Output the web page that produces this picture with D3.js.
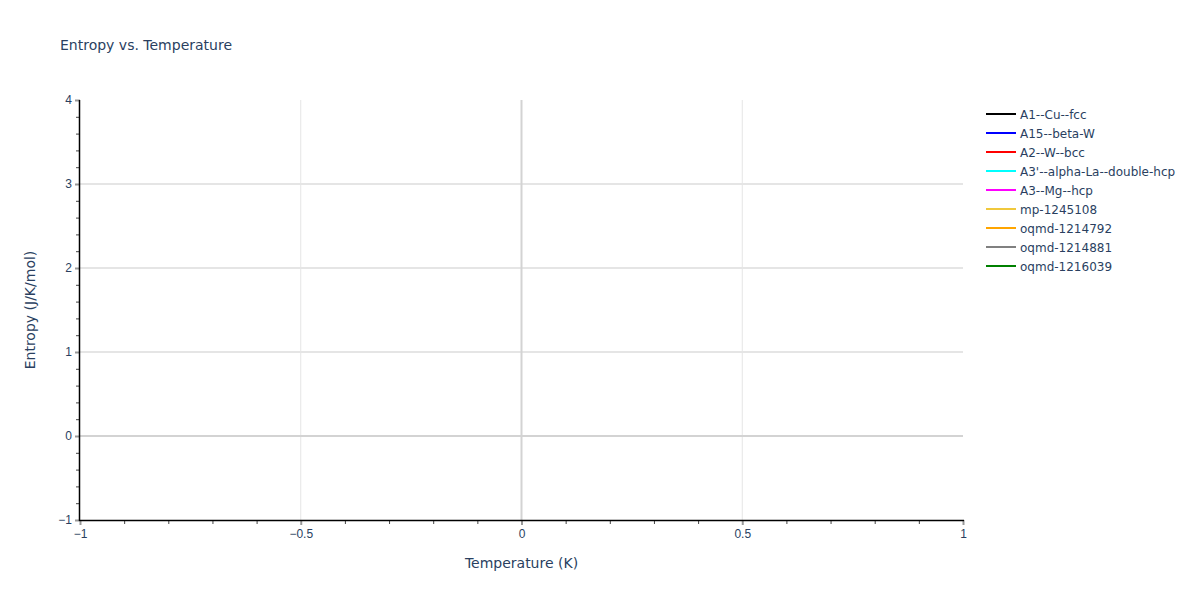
<!DOCTYPE html>
<html>
<head>
<meta charset="utf-8">
<script src="https://cdn.jsdelivr.net/npm/d3@7"></script>
<style>
  body { margin: 0; background: #fff; }
  svg { display: block; font-family: "DejaVu Sans", verdana, arial, sans-serif; }
</style>
</head>
<body>
<svg id="chart" width="1200" height="600"></svg>
<script>
// ---- data ----
const seriesNames = ["A1--Cu--fcc", "A15--beta-W", "A2--W--bcc", "A3'--alpha-La--double-hcp", "A3--Mg--hcp", "mp-1245108", "oqmd-1214792", "oqmd-1214881", "oqmd-1216039"];
const seriesColors = ["black", "blue", "red", "cyan", "magenta", "#f0c83c", "orange", "grey", "green"];
// every series is empty in the reference (no data points drawn)
const seriesValues = [[], [], [], [], [], [], [], [], []];
const xDomain = [-1, 1];
const yDomain = [-1, 4];
const xTicks = [-1, -0.5, 0, 0.5, 1];
const yTicks = [-1, 0, 1, 2, 3, 4];
const xMinorTicks = [-0.9, -0.8, -0.7, -0.6, -0.4, -0.3, -0.2, -0.1, 0.1, 0.2, 0.3, 0.4, 0.6, 0.7, 0.8, 0.9];
const yMinorTicks = [-0.8, -0.6, -0.4, -0.2, 0.2, 0.4, 0.6, 0.8, 1.2, 1.4, 1.6, 1.8, 2.2, 2.4, 2.6, 2.8, 3.2, 3.4, 3.6, 3.8];
const titleText = "Entropy vs. Temperature";
const xTitle = "Temperature (K)";
const yTitle = "Entropy (J/K/mol)";

// ---- layout ----
const L = 80, R = 963, T = 100, B = 520;
const textColor = "#2a3f5f";
const svg = d3.select("#chart");

const x = d3.scaleLinear().domain(xDomain).range([L, R]);
const y = d3.scaleLinear().domain(yDomain).range([B, T]);

const fmt = v => d3.format("")(v).replace("-", "\u2212");

// grid
const g = svg.append("g");
g.selectAll(".gx").data(xTicks.filter(v => v !== 0 && v !== xDomain[0] && v !== xDomain[1]))
  .join("line").attr("x1", d => x(d)).attr("x2", d => x(d)).attr("y1", T).attr("y2", B)
  .attr("stroke", "#e5e5e5").attr("stroke-width", 1);
g.selectAll(".gy").data(yTicks.filter(v => v !== 0 && v !== yDomain[0] && v !== yDomain[1]))
  .join("line").attr("x1", L).attr("x2", R).attr("y1", d => y(d)).attr("y2", d => y(d))
  .attr("stroke", "#e5e5e5").attr("stroke-width", 2);
// zero lines
g.append("line").attr("x1", x(0)).attr("x2", x(0)).attr("y1", T).attr("y2", B)
  .attr("stroke", "#d3d3d3").attr("stroke-width", 2);
g.append("line").attr("x1", L).attr("x2", R).attr("y1", y(0)).attr("y2", y(0))
  .attr("stroke", "#d3d3d3").attr("stroke-width", 2);

// series lines (empty)
const line = d3.line().x(d => x(d[0])).y(d => y(d[1]));
svg.append("g").selectAll("path").data(seriesValues).join("path")
  .attr("d", d => d.length ? line(d) : null)
  .attr("fill", "none")
  .attr("stroke", (d, i) => seriesColors[i]).attr("stroke-width", 2);

// x axis
const xAxis = d3.axisBottom(x).tickValues(xTicks).tickSize(5).tickPadding(4).tickFormat(fmt);
const xg = svg.append("g").attr("transform", `translate(0,${B})`).call(xAxis);
xg.select(".domain").remove();
xg.selectAll(".tick line").attr("stroke", "#999").attr("stroke-width", 2);
xg.selectAll(".tick text").attr("fill", textColor).attr("font-size", 12).attr("font-family", null);
const xMinor = d3.axisBottom(x).tickValues(xMinorTicks).tickSize(4).tickFormat("");
const xmg = svg.append("g").attr("transform", `translate(0,${B})`).call(xMinor);
xmg.select(".domain").remove();
xmg.selectAll(".tick line").attr("stroke", "#444").attr("stroke-width", 1);
svg.append("line").attr("x1", L - 1).attr("x2", R + 1).attr("y1", B + 0.5).attr("y2", B + 0.5)
  .attr("stroke", "black").attr("stroke-width", 1.5);

// y axis
const yAxis = d3.axisLeft(y).tickValues(yTicks).tickSize(5).tickPadding(3).tickFormat(fmt);
const yg = svg.append("g").attr("transform", `translate(${L},0)`).call(yAxis);
yg.select(".domain").remove();
yg.selectAll(".tick line").attr("stroke", "#999").attr("stroke-width", 2);
yg.selectAll(".tick text").attr("fill", textColor).attr("font-size", 12).attr("font-family", null);
const yMinor = d3.axisLeft(y).tickValues(yMinorTicks).tickSize(4).tickFormat("");
const ymg = svg.append("g").attr("transform", `translate(${L},0)`).call(yMinor);
ymg.select(".domain").remove();
ymg.selectAll(".tick line").attr("stroke", "#444").attr("stroke-width", 1);
svg.append("line").attr("x1", L - 0.5).attr("x2", L - 0.5).attr("y1", T).attr("y2", B + 1)
  .attr("stroke", "black").attr("stroke-width", 1.5);

// titles
svg.append("text").attr("x", 60).attr("y", 50).attr("fill", textColor)
  .attr("font-size", 14).text(titleText);
svg.append("text").attr("x", (L + R) / 2).attr("y", 568).attr("text-anchor", "middle")
  .attr("fill", textColor).attr("font-size", 14).text(xTitle);
svg.append("text").attr("transform", `translate(35,${(T + B) / 2}) rotate(-90)`)
  .attr("text-anchor", "middle").attr("fill", textColor).attr("font-size", 14).text(yTitle);

// legend
const lg = svg.append("g").attr("transform", "translate(986,114)");
const items = lg.selectAll("g").data(seriesNames).join("g")
  .attr("transform", (d, i) => `translate(0,${i * 19})`);
items.append("line").attr("x1", 0).attr("x2", 30).attr("y1", 0).attr("y2", 0)
  .attr("stroke", (d, i) => seriesColors[i]).attr("stroke-width", 2);
items.append("text").attr("x", 34).attr("y", 4.5).attr("fill", textColor)
  .attr("font-size", 12).text(d => d);
</script>
</body>
</html>
